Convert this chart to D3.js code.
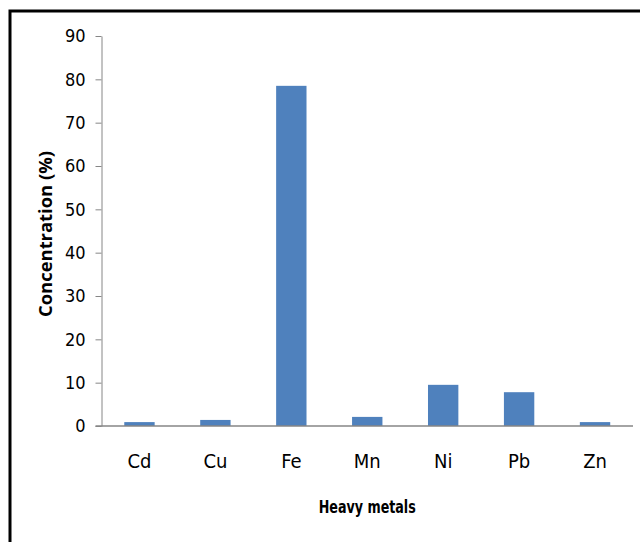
<!DOCTYPE html>
<html>
<head>
<meta charset="utf-8">
<script src="https://cdn.jsdelivr.net/npm/d3@7"></script>
<style>
  html, body { margin: 0; padding: 0; background: #fff; }
  svg { display: block; }
  text { font-family: "Liberation Sans Narrow", "DejaVu Sans Condensed", "Liberation Sans", sans-serif; }
</style>
</head>
<body>
<svg id="chart" width="640" height="542"></svg>
<script>
// Heavy metal concentrations
const categories = ["Cd", "Cu", "Fe", "Mn", "Ni", "Pb", "Zn"];
const values = [0.9, 1.4, 78.5, 2.1, 9.5, 7.8, 0.9];
const yTicks = [0, 10, 20, 30, 40, 50, 60, 70, 80, 90];

const svg = d3.select("#chart");
const margin = { left: 101.5, right: 633, top: 36, bottom: 426 };

// frame around the chart area
svg.append("rect")
  .attr("x", 10).attr("y", 11)
  .attr("width", 660).attr("height", 560)
  .attr("fill", "none").attr("stroke", "#000").attr("stroke-width", 3);

const x = d3.scaleBand()
  .domain(categories)
  .range([margin.left, margin.right])
  .paddingInner(0.6).paddingOuter(0.3);

const y = d3.scaleLinear().domain([0, 90]).range([margin.bottom, margin.top]);

// bars
svg.append("g").selectAll("rect")
  .data(categories)
  .join("rect")
  .attr("x", d => x(d))
  .attr("width", x.bandwidth())
  .attr("y", (d, i) => y(values[i]))
  .attr("height", (d, i) => y(0) - y(values[i]))
  .attr("fill", "#4f81bd");

// y axis
const yAxis = svg.append("g")
  .attr("transform", `translate(${margin.left},0)`)
  .call(d3.axisLeft(y).tickValues(yTicks).tickSize(6).tickPadding(10).tickSizeOuter(0));
yAxis.select(".domain").attr("stroke", "#868686");
yAxis.selectAll(".tick line").attr("stroke", "#868686");
yAxis.selectAll(".tick text")
  .attr("font-size", 18).attr("fill", "#000");

// x axis baseline
const xAxis = svg.append("g")
  .attr("transform", `translate(0,${margin.bottom})`)
  .call(d3.axisBottom(x).tickSize(0).tickPadding(28).tickSizeOuter(0));
xAxis.select(".domain").attr("d", `M${margin.left - 6},0H${margin.right}`).attr("stroke", "#868686").attr("stroke-width", 1.5);
xAxis.selectAll(".tick text")
  .attr("font-size", 20).attr("fill", "#000");

// axis titles
svg.append("text")
  .attr("x", (margin.left + margin.right) / 2)
  .attr("y", 513)
  .attr("text-anchor", "middle")
  .attr("font-size", 17).attr("font-weight", "bold")
  .attr("textLength", 97).attr("lengthAdjust", "spacingAndGlyphs")
  .text("Heavy metals");

svg.append("text")
  .attr("transform", `translate(52,${(margin.top + margin.bottom) / 2 + 3}) rotate(-90)`)
  .attr("text-anchor", "middle")
  .attr("font-size", 17).attr("font-weight", "bold")
  .attr("textLength", 166).attr("lengthAdjust", "spacingAndGlyphs")
  .style("font-family", "'Open Sans', 'DejaVu Sans', sans-serif")
  .text("Concentration (%)");
</script>
</body>
</html>
